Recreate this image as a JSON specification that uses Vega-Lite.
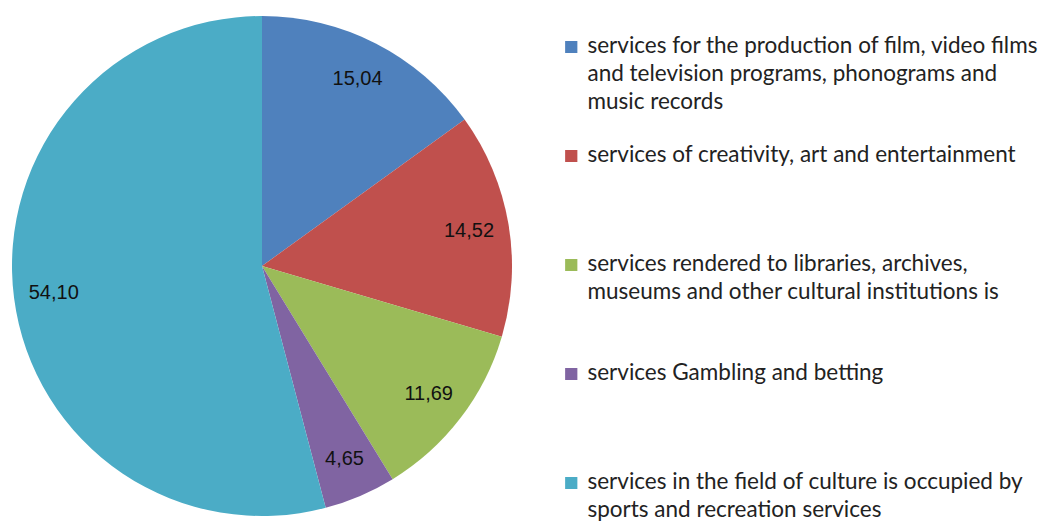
{
  "$schema": "https://vega.github.io/schema/vega-lite/v6.json",
  "width": 524,
  "height": 532,
  "padding": 0,
  "background": "white",
  "config": {
    "view": {"stroke": null},
    "style": {"guide-label": {"lineHeight": 28, "dy": -12}},
    "locale": {"number": {"decimal": ",", "thousands": " ", "grouping": [3], "currency": ["", ""]}}
  },
  "data": {
    "values": [
      {"category": "services for the production of film, video films\nand television programs, phonograms and\nmusic records", "value": 15.04, "order": 1},
      {"category": "services of creativity, art and entertainment", "value": 14.52, "order": 2},
      {"category": "services rendered to libraries, archives,\nmuseums and other cultural institutions is", "value": 11.69, "order": 3},
      {"category": "services Gambling and betting", "value": 4.65, "order": 4},
      {"category": "services in the field of culture is occupied by\nsports and recreation services", "value": 54.10, "order": 5}
    ]
  },
  "encoding": {
    "theta": {"field": "value", "type": "quantitative", "stack": true},
    "order": {"field": "order", "type": "quantitative"},
    "color": {
      "field": "category",
      "type": "nominal",
      "sort": null,
      "scale": {
        "domain": [
          "services for the production of film, video films\nand television programs, phonograms and\nmusic records",
          "services of creativity, art and entertainment",
          "services rendered to libraries, archives,\nmuseums and other cultural institutions is",
          "services Gambling and betting",
          "services in the field of culture is occupied by\nsports and recreation services"
        ],
        "range": ["#4F81BD", "#C0504D", "#9BBB59", "#8064A2", "#4BACC6"]
      },
      "legend": {
        "title": null,
        "orient": "none",
        "legendX": 560,
        "legendY": 27,
        "symbolType": "square",
        "symbolSize": 150,
        "symbolStrokeWidth": 0,
        "symbolOpacity": 1,
        "labelFont": "Lato",
        "labelFontSize": 22.5,
        "labelColor": "#222222",
        "labelLimit": 0,
        "labelOffset": 5,
        "labelBaseline": "top",
        "labelExpr": "split(datum.label, '\\n')",
        "clipHeight": 40,
        "gridAlign": "all",
        "rowPadding": 22
      }
    }
  },
  "layer": [
    {"mark": {"type": "arc", "outerRadius": 250, "stroke": null}},
    {
      "mark": {"type": "text", "radius": 210, "font": "Liberation Sans", "fontSize": 20, "color": "#111111"},
      "encoding": {
        "text": {"field": "value", "type": "quantitative", "format": ".2f"},
        "color": {"value": "#111111"}
      }
    }
  ]
}
